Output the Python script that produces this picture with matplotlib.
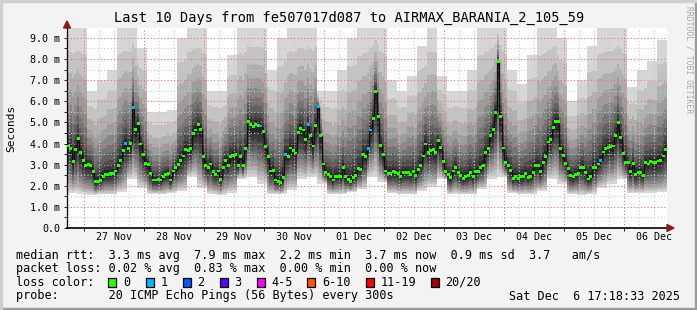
import datetime as dt

import numpy as np
import matplotlib
matplotlib.use("Agg")
from matplotlib import pyplot as plt
import matplotlib.dates as mdates
from matplotlib.patches import Rectangle, Polygon

# --- data (10 days, hourly median, 4-hourly smoke bounds) ---
end_time = dt.datetime(2025, 12, 6, 17, 18, 33)
n_hours = 240

median_ms = [
    3.88, 3.77, 3.14, 3.70, 4.25, 3.57, 3.19, 2.98, 3.00, 2.95, 2.67, 2.19,
    2.22, 2.26, 2.45, 2.55, 2.55, 2.56, 2.60, 2.70, 2.95, 3.19, 3.66, 4.01,
    3.77, 4.00, 5.72, 4.67, 4.96, 3.98, 3.46, 3.06, 3.00, 2.60, 2.27, 2.27,
    2.30, 2.27, 2.45, 2.55, 2.60, 2.27, 2.70, 2.85, 2.99, 3.20, 3.41, 3.70,
    3.65, 3.75, 4.49, 4.64, 4.90, 4.67, 3.38, 2.94, 2.86, 3.03, 2.67, 2.55,
    2.70, 2.30, 2.87, 3.21, 2.97, 3.38, 3.45, 3.49, 2.95, 3.38, 2.95, 3.77,
    5.04, 4.91, 4.80, 4.91, 4.85, 4.83, 4.56, 3.85, 3.38, 2.70, 2.73, 2.27,
    2.20, 2.16, 2.38, 3.49, 3.40, 3.79, 3.68, 3.55, 4.51, 4.72, 4.64, 4.20,
    4.88, 4.36, 3.88, 4.86, 5.75, 4.36, 3.03, 2.62, 2.55, 2.45, 2.27, 2.45,
    2.45, 2.42, 2.87, 2.42, 2.30, 2.21, 2.40, 2.48, 2.83, 2.78, 3.46, 3.38,
    3.76, 4.64, 5.20, 6.46, 5.30, 3.90, 3.46, 2.70, 2.60, 2.60, 2.67, 2.62,
    2.58, 2.45, 2.62, 2.62, 2.62, 2.55, 2.67, 2.50, 2.75, 2.97, 3.41, 3.98,
    3.57, 3.68, 3.73, 3.57, 4.14, 3.82, 3.14, 2.67, 2.55, 2.38, 2.70, 2.87,
    2.62, 2.50, 2.35, 2.42, 2.50, 2.62, 2.42, 2.67, 2.67, 2.87, 2.94, 3.57,
    3.77, 4.36, 4.67, 5.48, 7.88, 5.27, 3.79, 3.09, 2.97, 2.73, 2.35, 2.42,
    2.35, 2.42, 2.42, 2.58, 2.40, 2.45, 2.62, 2.94, 2.94, 2.67, 3.09, 3.38,
    4.07, 4.20, 4.75, 5.04, 5.04, 3.77, 3.43, 3.06, 2.83, 2.50, 2.42, 2.55,
    2.60, 2.87, 2.87, 2.62, 2.32, 2.42, 2.87, 2.86, 3.03, 3.21, 3.60, 3.77,
    3.82, 3.85, 3.88, 4.36, 4.99, 4.29, 3.54, 3.09, 3.09, 2.67, 3.06, 2.53,
    2.62, 2.62, 2.50, 3.09, 3.03, 3.14, 3.09, 3.09, 3.17, 3.21, 3.41, 3.70,
]

# hours where one of 20 pings was lost (blue marker)
loss1_hours = [23, 26, 77, 87, 96, 100, 120, 121, 213]

smoke_max = [
    9.5, 9.5, 6.5, 7.0, 7.5, 9.5, 9.5, 8.5, 5.5, 5.5,
    5.6, 9.0, 9.5, 9.5, 6.5, 6.5, 8.2, 9.5, 9.5, 9.5,
    7.5, 9.0, 9.5, 9.5, 9.5, 6.5, 6.5, 7.5, 9.0, 9.5,
    9.5, 9.5, 7.0, 6.5, 7.2, 8.6, 9.5, 7.2, 6.5, 6.5,
    7.5, 9.5, 9.5, 9.5, 7.5, 6.8, 8.2, 9.5, 9.5, 9.0,
    6.0, 7.0, 8.6, 9.5, 9.5, 9.5, 6.7, 7.5, 7.9, 8.9,
]
smoke_min = [
    1.65, 1.60, 1.55, 1.60, 1.60, 1.70, 2.30, 1.90, 1.60, 1.60,
    1.65, 1.75, 2.40, 1.90, 1.60, 1.55, 1.65, 2.30, 2.40, 2.10,
    1.60, 1.60, 1.80, 2.30, 2.40, 2.10, 1.60, 1.60, 1.70, 1.85,
    2.40, 2.20, 1.65, 1.60, 1.60, 1.75, 1.95, 2.30, 1.60, 1.60,
    1.60, 1.85, 2.30, 2.40, 1.65, 1.60, 1.60, 1.75, 2.30, 2.10,
    1.60, 1.55, 1.60, 1.90, 2.10, 2.30, 1.65, 1.65, 1.65, 1.70,
]

day_labels = ["27 Nov", "28 Nov", "29 Nov", "30 Nov", "01 Dec",
              "02 Dec", "03 Dec", "04 Dec", "05 Dec", "06 Dec"]
ytick_labels = ["0.0", "1.0 m", "2.0 m", "3.0 m", "4.0 m", "5.0 m",
                "6.0 m", "7.0 m", "8.0 m", "9.0 m"]

loss_names = ["0", "1", "2", "3", "4-5", "6-10", "11-19", "20/20"]
loss_colors = ["#26ff00", "#00b8ff", "#0059ff", "#5e00ff", "#ff00ff",
               "#ff5500", "#ff0000", "#a10000"]

# --- figure ---
W, H = 697, 310
fig = plt.figure(figsize=(W / 100, H / 100), dpi=100, facecolor="#f3f3f3")
ax = fig.add_axes([67 / W, 1 - 228 / H, (667 - 67) / W, (228 - 28) / H])
ax.set_facecolor("white")

mono = "DejaVu Sans Mono"
start_time = end_time - dt.timedelta(days=10)
t_edges = [start_time + dt.timedelta(hours=h) for h in range(n_hours + 1)]
x_edges = mdates.date2num(t_edges)
x_mid = (x_edges[:-1] + x_edges[1:]) / 2

med = np.array(median_ms)
hi = np.repeat(smoke_max, 4)
lo = np.repeat(smoke_min, 4)

# smoke: outer (light) to inner (dark)
up_frac = [1.0, 0.8, 0.62, 0.48, 0.37, 0.28, 0.2, 0.13, 0.08, 0.04]
dn_frac = [1.0, 0.93, 0.86, 0.78, 0.7, 0.6, 0.5, 0.4, 0.28, 0.15]
greys = np.linspace(0.84, 0.15, len(up_frac))
for fu, fd, g in zip(up_frac, dn_frac, greys):
    top = med + fu * (hi - med)
    bot = med - fd * (med - lo)
    ax.fill_between(x_edges, np.append(bot, bot[-1]), np.append(top, top[-1]),
                    step="post", color=str(g), lw=0, zorder=1)

# grid
ax.set_ylim(0, 9.47)
ax.set_xlim(x_edges[0], x_edges[-1])
midnights = [dt.datetime(2025, 11, 27) + dt.timedelta(days=d) for d in range(10)]
for d in range(40):
    t = dt.datetime(2025, 11, 26, 18) + dt.timedelta(hours=6 * d)
    if t >= end_time:
        break
    if t.hour != 0:
        ax.axvline(mdates.date2num(t), color="#c8c8c8", lw=0.8, ls=(0, (1, 2)), zorder=2)
for yv in np.arange(0.5, 9.5, 1.0):
    ax.axhline(yv, color="#c8c8c8", lw=0.8, ls=(0, (1, 2)), zorder=2)
for t in midnights:
    ax.axvline(mdates.date2num(t), color="#f07070", lw=0.8, ls=(0, (1, 2)), zorder=2)
for yv in range(1, 10):
    ax.axhline(yv, color="#f07070", lw=0.8, ls=(0, (1, 2)), zorder=2)

# median line + loss coloured markers
ax.plot(x_mid, med, color="#111111", lw=0.9, drawstyle="steps-mid", zorder=3)
mcol = [loss_colors[1] if h in loss1_hours else loss_colors[0] for h in range(n_hours)]
ax.scatter(x_mid, med, c=mcol, marker="s", s=4.3, lw=0, zorder=4)

# axes
for s in ["top", "right"]:
    ax.spines[s].set_visible(False)
ax.spines["left"].set_color("black")
ax.spines["bottom"].set_color("black")
ax.spines["left"].set_linewidth(0.9)
ax.spines["bottom"].set_linewidth(1.2)
ax.set_yticks(range(10))
ax.set_yticklabels(ytick_labels, family=mono, fontsize=7.2)
ax.set_yticks(np.arange(0.5, 9.5, 1.0), minor=True)
noons = [mdates.date2num(t + dt.timedelta(hours=12)) for t in midnights]
ax.set_xticks(noons)
ax.set_xticklabels(day_labels, family=mono, fontsize=7.2)
ax.set_xticks(mdates.date2num(midnights), minor=True)
ax.tick_params(axis="y", which="both", length=2, width=0.6, pad=3)
ax.tick_params(axis="x", which="major", length=0, pad=3)
ax.tick_params(axis="x", which="minor", length=2, width=0.6)
ax.set_ylabel("Seconds", family=mono, fontsize=8, labelpad=10)

# arrows at axis ends
arrow_col = "#8b1a1a"
fig.patches.append(Polygon([[63.5 / W, 1 - 28 / H], [70.5 / W, 1 - 28 / H], [67 / W, 1 - 21 / H]],
                           closed=True, transform=fig.transFigure, color=arrow_col))
fig.patches.append(Polygon([[667 / W, 1 - 224.5 / H], [667 / W, 1 - 231.5 / H], [674 / W, 1 - 228 / H]],
                           closed=True, transform=fig.transFigure, color=arrow_col))

# title and side text
fig.text(349 / W, 1 - 18 / H, "Last 10 Days from fe507017d087 to AIRMAX_BARANIA_2_105_59",
         family=mono, fontsize=9.8, ha="center", va="center")
fig.text(689 / W, 1 - 6 / H, "RRDTOOL / TOBI OETIKER", family=mono, fontsize=5.8,
         color="#a8a8a8", rotation=270, ha="center", va="top")

# legend block
fs = 8.5
rows_y = [255, 268.5, 282.3, 296]
fig.text(16 / W, 1 - rows_y[0] / H,
         "median rtt:  3.3 ms avg  7.9 ms max  2.2 ms min  3.7 ms now  0.9 ms sd  3.7   am/s",
         family=mono, fontsize=fs, va="center")
fig.text(16 / W, 1 - rows_y[1] / H,
         "packet loss: 0.02 % avg  0.83 % max  0.00 % min  0.00 % now",
         family=mono, fontsize=fs, va="center")
fig.text(16 / W, 1 - rows_y[2] / H, "loss color:", family=mono, fontsize=fs, va="center")
box_x = [108, 145.5, 182.5, 219.5, 256.5, 307, 366, 430.5]
for bx, name, col in zip(box_x, loss_names, loss_colors):
    fig.patches.append(Rectangle((bx / W, 1 - (rows_y[2] + 4.5) / H), 8 / W, 9 / H,
                                 transform=fig.transFigure, facecolor=col,
                                 edgecolor="black", lw=0.9))
    fig.text((bx + 15) / W, 1 - rows_y[2] / H, name, family=mono, fontsize=fs, va="center")
fig.text(16 / W, 1 - rows_y[3] / H,
         "probe:       20 ICMP Echo Pings (56 Bytes) every 300s",
         family=mono, fontsize=fs, va="center")
fig.text(680 / W, 1 - rows_y[3] / H, "Sat Dec  6 17:18:33 2025",
         family=mono, fontsize=fs, va="center", ha="right")

# frame shading
fig.patches.append(Rectangle((0, 0), 1, 2.5 / H, transform=fig.transFigure, color="#9c9c9c"))
fig.patches.append(Rectangle((1 - 2.5 / W, 0), 2.5 / W, 1, transform=fig.transFigure, color="#9c9c9c"))
fig.patches.append(Rectangle((0, 1 - 2 / H), 1, 2 / H, transform=fig.transFigure, color="#cfcfcf"))
fig.patches.append(Rectangle((0, 0), 2 / W, 1, transform=fig.transFigure, color="#cfcfcf"))

fig.savefig("out.png", dpi=100, facecolor=fig.get_facecolor())
